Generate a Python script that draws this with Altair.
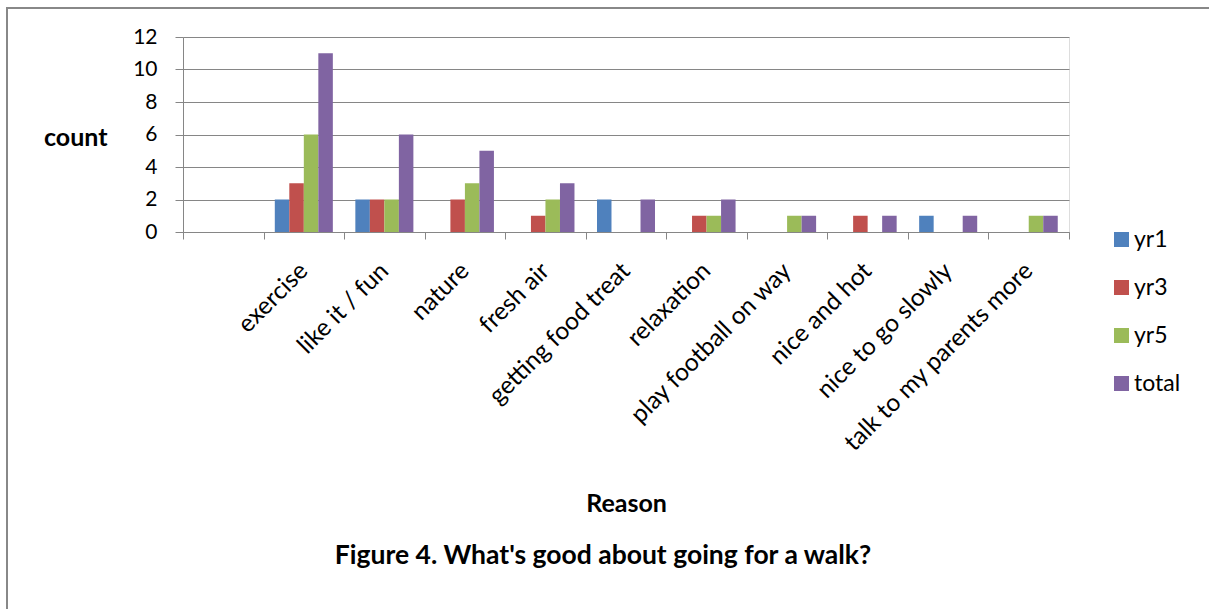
import altair as alt
import pandas as pd

categories = ["exercise", "like it / fun", "nature", "fresh air", "getting food treat",
              "relaxation", "play football on way", "nice and hot", "nice to go slowly",
              "talk to my parents more"]
series = ["yr1", "yr3", "yr5", "total"]
yr1 = [2, 2, 0, 0, 2, 0, 0, 0, 1, 0]
yr3 = [3, 2, 2, 1, 0, 1, 0, 1, 0, 0]
yr5 = [6, 2, 3, 2, 0, 1, 1, 0, 0, 1]
total = [11, 6, 5, 3, 2, 2, 1, 1, 1, 1]
colors = ["#4F81BD", "#C0504D", "#9BBB59", "#8064A2"]

rows = []
for s, vals in zip(series, [yr1, yr3, yr5, total]):
    for c, v in zip(categories, vals):
        rows.append({"Reason": c, "series": s, "count": v})
df = pd.DataFrame(rows)

domain_x = [" "] + categories
FONT = "Lato"
GRAY = "#868686"

bars = alt.Chart(df).mark_bar().encode(
    x=alt.X("Reason:N",
            scale=alt.Scale(domain=domain_x, paddingInner=0, paddingOuter=0),
            axis=alt.Axis(title="Reason", labelAngle=-45, labelAlign="right",
                          labelBaseline="middle", labelFontSize=24.5, labelFont=FONT,
                          labelColor="black", labelPadding=28, tickBand="extent",
                          tickSize=7, tickColor=GRAY, domainColor=GRAY,
                          titleFont=FONT, titleFontSize=25, titleFontWeight="bold",
                          titleColor="black", titleY=271, titleBaseline="middle",
                          grid=False, labelOverlap=False, labelLimit=0)),
    xOffset=alt.XOffset("series:N", scale=alt.Scale(domain=series, paddingInner=0, paddingOuter=0.775),
                        sort=series),
    y=alt.Y("count:Q",
            scale=alt.Scale(domain=[0, 12], nice=False),
            axis=alt.Axis(title="count", values=[0, 2, 4, 6, 8, 10, 12], tickSize=8,
                          tickColor=GRAY, domainColor=GRAY, gridColor=GRAY, grid=True,
                          labelFontSize=21, labelFont=FONT, labelColor="black",
                          labelPadding=18, titleAngle=0, titleAlign="right",
                          titleBaseline="middle", titleX=-76, titleY=100,
                          titleFont=FONT, titleFontSize=25, titleFontWeight="bold",
                          titleColor="black")),
    color=alt.Color("series:N", scale=alt.Scale(domain=series, range=colors),
                    legend=alt.Legend(title=None, orient="none", legendX=927, legendY=191,
                                      symbolType="square", symbolSize=225,
                                      symbolStrokeWidth=0, labelFontSize=23,
                                      labelFont=FONT, labelColor="black",
                                      rowPadding=24, labelOffset=1)),
)

border = alt.Chart(pd.DataFrame({"k": [0]})).mark_rect(
    fill=None, stroke="#888888", strokeWidth=2
).encode(x=alt.value(-176), x2=alt.value(1032), y=alt.value(-29), y2=alt.value(578))

chart = alt.layer(border, bars).properties(
    width=886, height=195,
    autosize=alt.AutoSizeParams(type="none"),
    padding={"left": 183, "top": 37, "right": 140, "bottom": 377},
    title=alt.TitleParams("Figure 4. What's good about going for a walk?", orient="bottom",
                          anchor="middle", frame="group", dx=-23, offset=0, dy=-73,
                          baseline="top",
                          fontSize=26.5, font=FONT, fontWeight="bold", color="black"),
).configure_view(stroke=None).configure(background="white")

chart.save("out.html", embed_options={"renderer": "svg", "actions": False})
